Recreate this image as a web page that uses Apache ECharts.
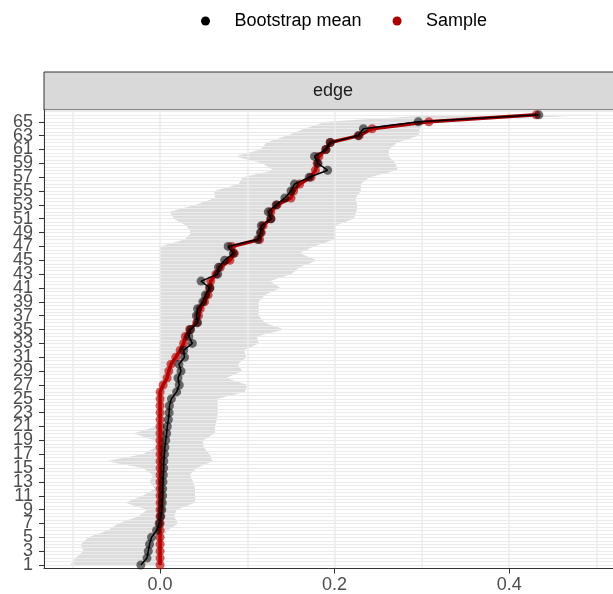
<!DOCTYPE html>
<html><head><meta charset="utf-8">
<script src="https://cdn.jsdelivr.net/npm/echarts@6/dist/echarts.min.js"></script>
<style>html,body{margin:0;padding:0;background:#fff}#c{width:613px;height:594px}</style>
</head><body><div id="c"></div>
<script>
const rows = [1,2,3,4,5,6,7,8,9,10,11,12,13,14,15,16,17,18,19,20,21,22,23,24,25,26,27,28,29,30,31,32,33,34,35,36,37,38,39,40,41,42,43,44,45,46,47,48,49,50,51,52,53,54,55,56,57,58,59,60,61,62,63,64,65,66];
const bootMean = [-0.022,-0.015,-0.0135,-0.012,-0.0098,-0.004,-0.001,0.0008,0.002,0.0025,
  0.0029,0.003,0.0033,0.0037,0.0042,0.0043,0.005,0.0055,0.0065,0.0075,
  0.0083,0.0095,0.0104,0.0107,0.013,0.019,0.022,0.0205,0.024,0.0216,
  0.028,0.027,0.037,0.033,0.035,0.043,0.0416,0.043,0.049,0.052,
  0.057,0.047,0.066,0.067,0.074,0.084,0.078,0.112,0.115,0.116,
  0.127,0.124,0.133,0.143,0.150,0.154,0.171,0.192,0.181,0.177,
  0.190,0.195,0.227,0.233,0.296,0.434];
const sample = [0,0,0,0,0,0,0,0,0,0,0,0,0,0,0,0,0,0,0,0,0,0,0,0,0,0,
  0.0035,0.008,0.010,0.0125,0.018,0.023,0.027,0.029,0.034,0.042,
  0.044,0.046,0.051,0.055,0.057,0.058,0.064,0.069,0.080,0.085,
  0.082,0.114,0.116,0.118,0.127,0.127,0.134,0.150,0.153,0.160,
  0.173,0.178,0.180,0.182,0.190,0.195,0.228,0.243,0.308,0.431];
const ciLower = [-0.103,-0.097,-0.088,-0.091,-0.082,-0.060,-0.048,-0.025,-0.015,-0.040,
  -0.020,-0.006,-0.012,-0.008,-0.020,-0.062,-0.020,-0.005,-0.006,-0.031,
  -0.004,0,0,0,0,0,0,0,0,0,0,0,0,0,0,0,0,0,0,0,0,0,0,0,0,0,0,
  0.028,0.036,0.030,0.016,0.011,0.040,0.063,0.062,0.090,0.095,
  0.130,0.117,0.086,0.115,0.122,0.145,0.165,0.190,0.320];
const ciUpper = [0.002,0.002,0.002,0.002,0.004,0.008,0.021,0.016,0.019,0.040,
  0.040,0.040,0.038,0.034,0.042,0.060,0.057,0.050,0.049,0.063,
  0.063,0.065,0.066,0.066,0.066,0.097,0.100,0.076,0.094,0.089,
  0.099,0.096,0.113,0.111,0.142,0.120,0.113,0.113,0.113,0.120,
  0.138,0.126,0.150,0.160,0.180,0.160,0.176,0.200,0.200,0.200,
  0.222,0.225,0.226,0.224,0.230,0.230,0.240,0.272,0.270,0.262,
  0.262,0.272,0.296,0.298,0.300,0.510];
const xTickValues = [0, 0.2, 0.4];
const yTickValues = [1,3,5,7,9,11,13,15,17,19,21,23,25,27,29,31,33,35,37,39,41,43,45,47,49,51,53,55,57,59,61,63,65];
const seriesNames = ['Bootstrap mean', 'Sample'];
const stripLabel = 'edge';

const FONT = "'Liberation Sans', Arial, sans-serif";
const chart = echarts.init(document.getElementById('c'));
const xMin = -0.133, xMax = 0.527;
const yMin = 0.5, yMax = 66.7;
// split the odd tick labels over two label axes so none is dropped as overlapping
const yLabelsA = yTickValues.filter((v, i) => i % 2 === 0);
const yLabelsB = yTickValues.filter((v, i) => i % 2 === 1);

function labelAxis(values, withTicks) {
  return { type: 'value', min: yMin, max: yMax, position: 'left',
    axisLine: { show: false, onZero: false },
    axisTick: { show: withTicks, customValues: withTicks ? yTickValues : values, length: 5, lineStyle: { color: '#333333', width: 1 } },
    axisLabel: { show: true, customValues: values, showMinLabel: true, showMaxLabel: true, hideOverlap: false,
      fontSize: 18, fontFamily: FONT, color: '#4D4D4D', margin: 11 },
    splitLine: { show: false } };
}

chart.setOption({
  animation: false,
  grid: { left: 44, top: 110, right: -7, bottom: 25.5, show: false, containLabel: false, outerBoundsMode: 'none' },
  graphic: [
    { type: 'rect', shape: { x: 44, y: 72, width: 620, height: 38 },
      style: { fill: '#D9D9D9', stroke: '#333333', lineWidth: 1 } },
    { type: 'text', x: 333, y: 91,
      style: { text: stripLabel, fontSize: 18, fontFamily: FONT, fill: '#1A1A1A', align: 'center', verticalAlign: 'middle' } }
  ],
  legend: {
    left: 196, top: 7,
    icon: 'circle', itemWidth: 48, itemHeight: 9, itemGap: 31,
    textStyle: { fontSize: 18, fontFamily: FONT, color: '#000' },
    data: [
      { name: seriesNames[0], itemStyle: { color: '#000000', opacity: 1 } },
      { name: seriesNames[1], itemStyle: { color: '#AA0000', opacity: 1 } }
    ],
    selectedMode: false
  },
  xAxis: [
    { type: 'value', min: xMin, max: xMax, position: 'bottom', splitNumber: 6,
      axisLine: { show: true, onZero: false, lineStyle: { color: '#333333', width: 1 } },
      axisTick: { show: false }, axisLabel: { show: false },
      splitLine: { show: true, lineStyle: { color: '#EBEBEB', width: 1.5 } } },
    { type: 'value', min: xMin, max: xMax, position: 'bottom',
      axisLine: { show: false, onZero: false },
      axisTick: { show: true, customValues: xTickValues, length: 5, lineStyle: { color: '#333333', width: 1 } },
      axisLabel: { show: true, customValues: xTickValues, showMinLabel: true, showMaxLabel: true, hideOverlap: false,
        formatter: v => v.toFixed(1), fontSize: 18, fontFamily: FONT, color: '#4D4D4D', margin: 8 },
      splitLine: { show: false } }
  ],
  yAxis: [
    { type: 'value', min: yMin, max: yMax, interval: 0.5, position: 'left',
      axisLine: { show: true, onZero: false, lineStyle: { color: '#333333', width: 1 } },
      axisTick: { show: false }, axisLabel: { show: false },
      splitLine: { show: true, lineStyle: { color: '#EBEBEB', width: 1 } } },
    labelAxis(yLabelsA, true),
    labelAxis(yLabelsB, false)
  ],
  series: [
    { type: 'custom', name: 'CI', coordinateSystem: 'cartesian2d', xAxisIndex: 0, yAxisIndex: 0, z: -1,
      silent: true,
      data: [[ciLower[0], rows[0]]],
      renderItem: function (params, api) {
        const pts = [];
        for (let i = 0; i < rows.length; i++) pts.push(api.coord([ciLower[i], rows[i]]));
        for (let i = rows.length - 1; i >= 0; i--) pts.push(api.coord([ciUpper[i], rows[i]]));
        return { type: 'polygon', shape: { points: pts }, style: { fill: '#DDDDDD' } };
      } },
    { type: 'line', name: seriesNames[1], xAxisIndex: 0, yAxisIndex: 0, z: 2,
      data: rows.map((r, i) => [sample[i], r]),
      symbol: 'circle', symbolSize: 9, showSymbol: true,
      lineStyle: { color: '#A80000', width: 3.5 },
      itemStyle: { color: 'rgba(185,0,0,0.65)' },
      emphasis: { disabled: true } },
    { type: 'line', name: seriesNames[0], xAxisIndex: 0, yAxisIndex: 0, z: 3,
      data: rows.map((r, i) => [bootMean[i], r]),
      symbol: 'circle', symbolSize: 9, showSymbol: true,
      lineStyle: { color: '#000000', width: 1.5 },
      itemStyle: { color: 'rgba(0,0,0,0.55)' },
      emphasis: { disabled: true } }
  ]
});
</script></body></html>
